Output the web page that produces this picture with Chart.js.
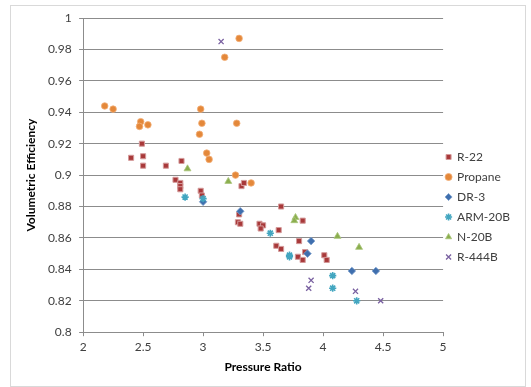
<!DOCTYPE html>
<html>
<head>
<meta charset="utf-8">
<script src="https://cdn.jsdelivr.net/npm/chart.js@4/dist/chart.umd.min.js"></script>
<style>
  html, body { margin: 0; padding: 0; background: #fff; }
  #chartBox { width: 531px; height: 387px; }
</style>
</head>
<body>
<div id="chartBox"><canvas id="effChart" width="531" height="387"></canvas></div>
<script>
// series names
const seriesNames = ["R-22", "Propane", "DR-3", "ARM-20B", "N-20B", "R-444B"];

// pressure ratio (x) and volumetric efficiency (y) for each series
const r22X = [2.49, 2.40, 2.50, 2.50, 2.69, 2.82, 2.77, 2.81, 2.81, 2.81, 2.98, 2.99, 3.32, 3.34, 3.30, 3.29, 3.31, 3.47, 3.50, 3.48, 3.65, 3.83, 3.63, 3.80, 3.61, 3.65, 3.85, 3.79, 3.83, 4.01, 4.03];
const r22Y = [0.920, 0.911, 0.912, 0.906, 0.906, 0.909, 0.897, 0.895, 0.893, 0.891, 0.890, 0.887, 0.893, 0.895, 0.875, 0.870, 0.869, 0.869, 0.868, 0.866, 0.880, 0.871, 0.865, 0.858, 0.855, 0.853, 0.851, 0.848, 0.846, 0.849, 0.846];

const propaneX = [3.30, 3.18, 2.18, 2.25, 2.98, 2.48, 2.47, 2.54, 2.99, 3.28, 2.97, 3.03, 3.05, 3.27, 3.40];
const propaneY = [0.987, 0.975, 0.944, 0.942, 0.942, 0.934, 0.931, 0.932, 0.933, 0.933, 0.926, 0.914, 0.910, 0.900, 0.895];

const dr3X = [3.00, 3.31, 3.90, 3.87, 4.24, 4.44];
const dr3Y = [0.883, 0.877, 0.858, 0.850, 0.839, 0.839];

const arm20bX = [2.85, 3.00, 3.56, 3.72, 3.72, 4.08, 4.08, 4.28];
const arm20bY = [0.886, 0.885, 0.863, 0.849, 0.848, 0.836, 0.828, 0.820];

const n20bX = [2.87, 3.21, 3.77, 3.76, 4.12, 4.30];
const n20bY = [0.904, 0.896, 0.873, 0.871, 0.861, 0.854];

const r444bX = [3.15, 3.90, 3.88, 4.27, 4.48];
const r444bY = [0.985, 0.833, 0.828, 0.826, 0.820];

// y axis tick labels 0.8 .. 1, x axis 2 .. 5
const yTicks = ["0.8", "0.82", "0.84", "0.86", "0.88", "0.9", "0.92", "0.94", "0.96", "0.98", "1"];
const xTicks = ["2", "2.5", "3", "3.5", "4", "4.5", "5"];

const toPoints = (xs, ys) => xs.map((x, i) => ({ x: x, y: ys[i] }));

const textColor = "#404040";
const font = "Lato, 'Liberation Sans', sans-serif";

// light frame round the whole chart, like the spreadsheet chart area
const framePlugin = {
  id: "frame",
  beforeDraw(chart) {
    const ctx = chart.ctx;
    ctx.save();
    ctx.fillStyle = "#fff";
    ctx.fillRect(0, 0, chart.width, chart.height);
    ctx.strokeStyle = "#d9d9d9";
    ctx.lineWidth = 1;
    ctx.strokeRect(10.5, 5.5, chart.width - 16, chart.height - 6);
    ctx.restore();
  }
};

// the legend sits a bit lower and further left than chart.js puts it
const legendShift = {
  id: "legendShift",
  afterLayout(chart) {
    const lg = chart.legend;
    if (!lg) return;
    lg.top += 11;
    lg.bottom += 11;
    lg.left -= 5;
    lg.right -= 5;
  }
};

const ctx = document.getElementById("effChart").getContext("2d");
new Chart(ctx, {
  type: "scatter",
  data: {
    datasets: [
      { label: seriesNames[0], data: toPoints(r22X, r22Y), pointStyle: "rect", radius: 3.6, backgroundColor: "#A8393A", borderColor: "#D49A9A", borderWidth: 1, order: 6 },
      { label: seriesNames[1], data: toPoints(propaneX, propaneY), pointStyle: "circle", radius: 3.3, backgroundColor: "#E4883A", borderColor: "#F2B07A", borderWidth: 0.8, order: 5 },
      { label: seriesNames[2], data: toPoints(dr3X, dr3Y), pointStyle: "rectRot", radius: 3.8, backgroundColor: "#3F6FAE", borderColor: "#7E9FCB", borderWidth: 0.8, order: 4 },
      { label: seriesNames[3], data: toPoints(arm20bX, arm20bY), pointStyle: "star", radius: 3.6, backgroundColor: "#43A6C0", borderColor: "#43A6C0", borderWidth: 1.6, order: 3 },
      { label: seriesNames[4], data: toPoints(n20bX, n20bY), pointStyle: "triangle", radius: 4, backgroundColor: "#8BAE4E", borderColor: "#A9C57A", borderWidth: 0.8, order: 2 },
      { label: seriesNames[5], data: toPoints(r444bX, r444bY), pointStyle: "crossRot", radius: 3.6, backgroundColor: "#7960A0", borderColor: "#7960A0", borderWidth: 1.3, order: 1 }
    ]
  },
  options: {
    responsive: false,
    animation: false,
    layout: { padding: { top: 18, right: 6, bottom: 13, left: 20 } },
    plugins: {
      tooltip: { enabled: false },
      legend: {
        display: true,
        position: "right",
        align: "center",
        labels: {
          usePointStyle: true,
          boxWidth: 5,
          boxHeight: 5,
          padding: 8,
          color: textColor,
          font: { family: font, size: 12 },
          sort: (a, b) => a.datasetIndex - b.datasetIndex
        }
      }
    },
    scales: {
      x: {
        type: "linear",
        min: 2,
        max: 5,
        afterBuildTicks: (axis) => { axis.ticks = xTicks.map(v => ({ value: parseFloat(v) })); },
        ticks: {
          color: textColor,
          font: { family: font, size: 12 },
          padding: 4,
          callback: (v) => String(+v.toFixed(2))
        },
        grid: { display: true, drawOnChartArea: false, drawTicks: true, tickLength: 4, color: "#8c8c8c" },
        border: { display: true, color: "#8c8c8c" },
        title: { display: true, text: "Pressure Ratio", color: "#000", font: { family: font, size: 12, weight: "bold" }, padding: { top: 1, bottom: 0 } }
      },
      y: {
        type: "linear",
        min: 0.8,
        max: 1,
        afterBuildTicks: (axis) => { axis.ticks = yTicks.map(v => ({ value: parseFloat(v) })); },
        ticks: {
          color: textColor,
          font: { family: font, size: 12 },
          padding: 7.5,
          callback: (v) => String(+v.toFixed(2))
        },
        grid: { color: "#8c8c8c", lineWidth: 1, tickLength: 4 },
        border: { display: true, color: "#8c8c8c" },
        title: { display: true, text: "Volumetric Efficiency", color: "#000", font: { family: font, size: 12, weight: "bold" }, padding: { bottom: 2 } }
      }
    }
  },
  plugins: [framePlugin, legendShift]
});
</script>
</body>
</html>
